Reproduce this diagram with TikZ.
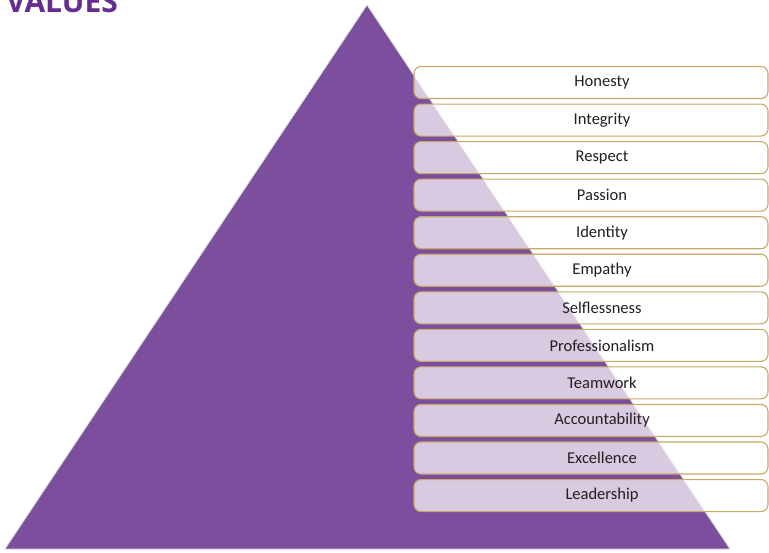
\documentclass[tikz,border=0pt]{standalone}
\usepackage{fontspec}
\setmainfont{Carlito}
\newfontfamily\titlefont{Open Sans}
\definecolor{pyr}{RGB}{123,79,157}
\definecolor{ttl}{RGB}{102,45,145}
\definecolor{gold}{RGB}{200,168,105}
\definecolor{txt}{RGB}{35,31,32}
\tikzset{
  valbox/.style={draw=gold, line width=1.1pt, rounded corners=7pt,
    fill=white, fill opacity=0.7,
    minimum width=354pt, minimum height=32pt, inner sep=0pt},
  valtext/.style={text=txt, inner sep=0pt, font=\fontsize{16.5}{19}\selectfont}
}
\begin{document}
\begin{tikzpicture}[x=1pt,y=-1pt]
\useasboundingbox (0,0) rectangle (769,552);
\begin{scope}
\clip (0,0) rectangle (769,552);
\node[anchor=base west, text=ttl, font=\titlefont\bfseries\fontsize{30}{31}\selectfont, inner sep=0pt] (title) at (6,12) {VALUES};
\fill[pyr, draw=white!85!black, line width=0.8pt] (367,5) -- (730,549) -- (5,549) -- cycle;
\foreach \t [count=\i] in {Honesty,Integrity,Respect,Passion,Identity,Empathy,Selflessness,Professionalism,Teamwork,Accountability,Excellence,Leadership}{
  \node[valbox] (b\i) at (591,{82.5+(\i-1)*37.55}) {};
  \node[valtext] (t\i) at ([xshift=11pt]b\i.center) {\t};
}
\end{scope}
\end{tikzpicture}
\end{document}
